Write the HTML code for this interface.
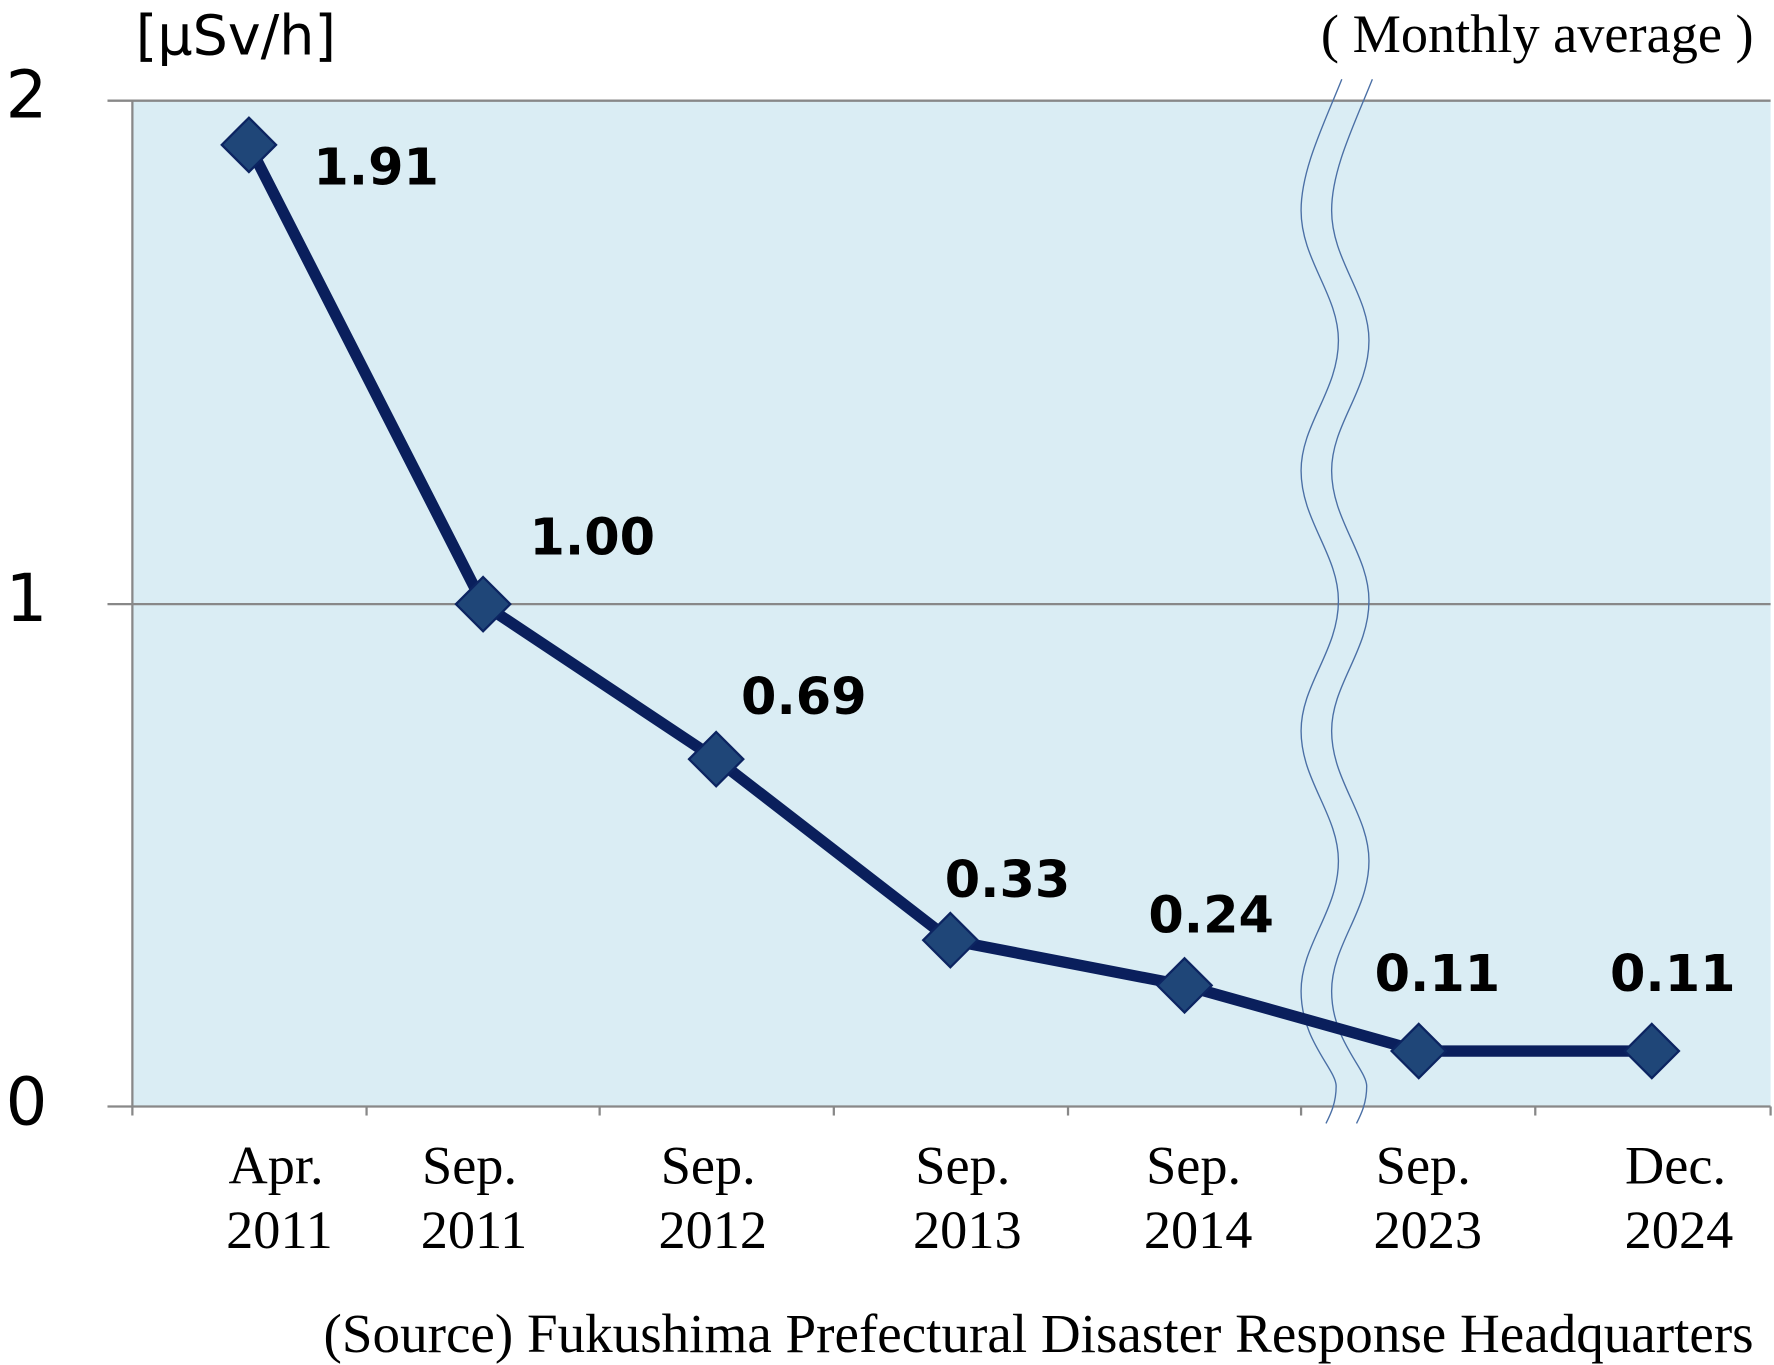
<!DOCTYPE html>
<html><head><meta charset="utf-8"><style>
html,body{margin:0;padding:0;background:#fff;}
svg{display:block;}
.s{font-family:"DejaVu Sans","Liberation Sans",sans-serif;}
.r{font-family:"Liberation Serif",serif;}
</style></head><body>
<svg width="1774" height="1365" viewBox="0 0 1568 1206.5" xmlns="http://www.w3.org/2000/svg">
<rect x="117" y="89" width="1448" height="889" fill="#daedf4"/>
<g stroke="#888" stroke-width="2" fill="none">
<line x1="95" y1="89" x2="1565" y2="89"/>
<line x1="95" y1="534" x2="1565" y2="534"/>
<line x1="95" y1="978" x2="1565" y2="978"/>
<line x1="117" y1="89" x2="117" y2="986"/>
<line x1="324" y1="978" x2="324" y2="986"/>
<line x1="530" y1="978" x2="530" y2="986"/>
<line x1="737" y1="978" x2="737" y2="986"/>
<line x1="944" y1="978" x2="944" y2="986"/>
<line x1="1150" y1="978" x2="1150" y2="986"/>
<line x1="1357" y1="978" x2="1357" y2="986"/>
<line x1="1565" y1="978" x2="1565" y2="986"/>
</g>
<g stroke="#4a6fa5" stroke-width="1.2" fill="none">
<path d="M1186,70 C1170,110 1150,150 1150,186 C1150,230 1183,260 1183,301 C1183,345 1150,375 1150,416 C1150,460 1183,490 1183,531 C1183,575 1150,605 1150,646 C1150,690 1183,720 1183,761 C1183,805 1150,835 1150,876 C1150,920 1181,945 1181,960 C1181,975 1176,985 1172,993"/>
<path d="M1213,70 C1197,110 1177,150 1177,186 C1177,230 1210,260 1210,301 C1210,345 1177,375 1177,416 C1177,460 1210,490 1210,531 C1210,575 1177,605 1177,646 C1177,690 1210,720 1210,761 C1210,805 1177,835 1177,876 C1177,920 1208,945 1208,960 C1208,975 1203,985 1199,993"/>
</g>
<polyline points="220,128 427,534 633,671 840,831 1047,871 1254,929 1460,929" fill="none" stroke="#0a1f5c" stroke-width="10" stroke-linejoin="round"/>
<g fill="#1f4678" stroke="#0c2461" stroke-width="2">
<path d="M220,104 L244,128 L220,152 L196,128Z"/>
<path d="M427,510 L451,534 L427,558 L403,534Z"/>
<path d="M633,647 L657,671 L633,695 L609,671Z"/>
<path d="M840,807 L864,831 L840,855 L816,831Z"/>
<path d="M1047,847 L1071,871 L1047,895 L1023,871Z"/>
<path d="M1254,905 L1278,929 L1254,953 L1230,929Z"/>
<path d="M1460,905 L1484,929 L1460,953 L1436,929Z"/>
</g>
<g class="s" font-weight="bold" font-size="45" fill="#000">
<text x="277" y="163">1.91</text>
<text x="468" y="490">1.00</text>
<text x="655" y="631">0.69</text>
<text x="835" y="793">0.33</text>
<text x="1015" y="824">0.24</text>
<text x="1215" y="876">0.11</text>
<text x="1423" y="876">0.11</text>
</g>
<g class="s" font-size="58" fill="#000">
<text x="5" y="104">2</text>
<text x="5" y="549">1</text>
<text x="5" y="994">0</text>
</g>
<text class="s" x="120" y="48" font-size="49">[μSv/h]</text>
<text class="r" x="1550" y="46" font-size="48" text-anchor="end">( Monthly average )</text>
<g class="r" font-size="48" text-anchor="middle" fill="#000">
<text x="244" y="1046">Apr.</text><text x="247" y="1103">2011</text>
<text x="415" y="1046">Sep.</text><text x="419" y="1103">2011</text>
<text x="626" y="1046">Sep.</text><text x="630" y="1103">2012</text>
<text x="851" y="1046">Sep.</text><text x="855" y="1103">2013</text>
<text x="1055" y="1046">Sep.</text><text x="1059" y="1103">2014</text>
<text x="1258" y="1046">Sep.</text><text x="1262" y="1103">2023</text>
<text x="1481" y="1046">Dec.</text><text x="1484" y="1103">2024</text>
</g>
<text class="r" x="1550" y="1195" font-size="48.7" text-anchor="end">(Source) Fukushima Prefectural Disaster Response Headquarters</text>
</svg>
</body></html>
